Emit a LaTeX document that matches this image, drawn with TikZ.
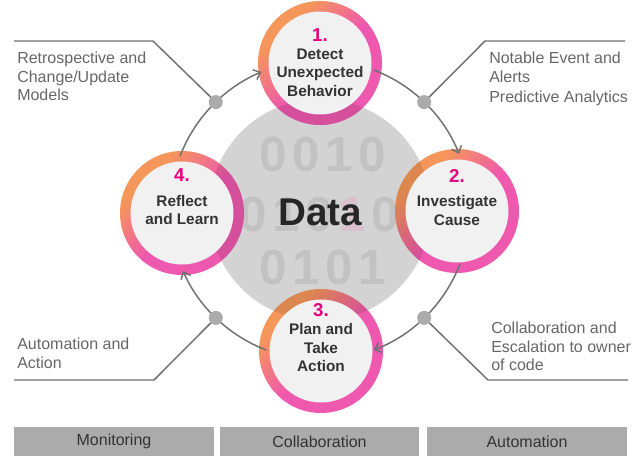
\documentclass[tikz,border=0pt]{standalone}
\usepackage{fontspec}
\setmainfont{Liberation Sans}
\usetikzlibrary{arrows.meta,calc}
\definecolor{ringorange}{HTML}{F5965A}
\definecolor{ringpink}{HTML}{EE58AE}
\definecolor{numpink}{HTML}{E6007E}
\definecolor{diskgray}{HTML}{F1F1F1}
\definecolor{biggray}{HTML}{D3D3D3}
\definecolor{digitgray}{HTML}{C2C2C2}
\definecolor{digitpink}{HTML}{D9C0CC}
\definecolor{linegray}{HTML}{707070}
\definecolor{dotgray}{HTML}{ABABAB}
\definecolor{labelgray}{HTML}{666666}
\definecolor{darktext}{HTML}{333333}
\definecolor{datatext}{HTML}{262626}
\definecolor{bargray}{HTML}{ABABAB}
\pgfdeclarehorizontalshading{ringshade}{100bp}{color(0bp)=(ringorange); color(30bp)=(ringorange); color(52bp)=(ringpink); color(100bp)=(ringpink)}
\tikzset{
  ring/.style={circle, minimum size=93pt, inner sep=0pt, shade, shading=ringshade, shading angle=-45},
  disk/.style={circle, minimum size=77.25pt, inner sep=0pt, fill=diskgray},
  digit/.style={inner sep=0pt, font=\fontsize{37}{40}\selectfont\bfseries, text=digitgray},
  datalabel/.style={inner sep=0pt, font=\fontsize{29}{30}\selectfont\bfseries, text=datatext},
  num/.style={inner sep=0pt, anchor=base, font=\fontsize{14}{16}\selectfont\bfseries, text=numpink},
  ctext/.style={inner sep=0pt, anchor=north, align=center, font=\fontsize{11.5}{13.9}\selectfont\bfseries, text=darktext},
  sidelabel/.style={inner sep=0pt, anchor=north west, align=left, font=\fontsize{12}{13.9}\selectfont, text=labelgray},
  conn/.style={draw=linegray, line width=1.1pt, -{Straight Barb[length=4.5pt,width=8pt]}},
  leader/.style={draw=linegray, line width=1.1pt},
  dotmark/.style={circle, fill=dotgray, minimum size=10.5pt, inner sep=0pt},
  bar/.style={rectangle, fill=bargray, inner sep=0pt, minimum height=21.75pt, text=darktext, font=\fontsize{12}{14}\selectfont}
}
\begin{document}
\begin{tikzpicture}[x=0.75pt,y=-0.75pt]
\useasboundingbox (0,0) rectangle (642,456);
% central data disc
\coordinate (C) at (320,210);
\fill[biggray] (C) circle[radius=111];
\foreach \d [count=\i] in {0,0,1,0} \node[digit] (ra\i) at ({240+33*\i},155) {\d};
\foreach \d [count=\i] in {0,1,0,1,0} \node[digit] (rb\i) at ({220+33*\i},215) {\d};
\node[digit, text=digitpink] (rbp) at (352,215) {1};
\foreach \d [count=\i] in {0,1,0,1} \node[digit] (rc\i) at ({240+33*\i},268) {\d};
\node[datalabel] (data) at (320,212) {Data};
% rings
\node[ring] (c1) at (320,63) {};
\node[ring] (c2) at (457,211) {};
\node[ring] (c3) at (321,351) {};
\node[ring] (c4) at (182,213) {};
\begin{scope}
  \clip (C) circle[radius=111];
  \foreach \c in {c1,c2,c3,c4} \fill[black, opacity=0.1] (\c) circle[radius=62];
\end{scope}
\node[disk] (k1) at (c1) {};
\node[disk] (k2) at (c2) {};
\node[disk] (k3) at (c3) {};
\node[disk] (k4) at (c4) {};
% connectors
\coordinate (s1) at ($(C)+(-69:150)$);
\coordinate (s2) at ($(C)+(21:150)$);
\coordinate (s3) at ($(C)+(111:150)$);
\coordinate (s4) at ($(C)+(-159:150)$);
\draw[conn] (s1) arc[start angle=-69, end angle=-22, radius=150];
\draw[conn] (s2) arc[start angle=21, end angle=69, radius=150];
\draw[conn] (s3) arc[start angle=111, end angle=156, radius=150];
\draw[conn] (s4) arc[start angle=-159, end angle=-113, radius=150];
% leader lines
\coordinate (d1) at ($(C)+(-46:150)$);
\coordinate (d2) at ($(C)+(46:150)$);
\coordinate (d3) at ($(C)+(134:150)$);
\coordinate (d4) at ($(C)+(-134:150)$);
\coordinate (e1) at (485,41);  \coordinate (f1) at (625,41);
\coordinate (e2) at (488,380); \coordinate (f2) at (628,380);
\coordinate (e3) at (154,380); \coordinate (f3) at (14,380);
\coordinate (e4) at (153,41);  \coordinate (f4) at (14,41);
\draw[leader] (d1) -- (e1) -- (f1);
\draw[leader] (d2) -- (e2) -- (f2);
\draw[leader] (d3) -- (e3) -- (f3);
\draw[leader] (d4) -- (e4) -- (f4);
\node[dotmark] (m1) at (d1) {};
\node[dotmark] (m2) at (d2) {};
\node[dotmark] (m3) at (d3) {};
\node[dotmark] (m4) at (d4) {};
% circle texts
\node[num] (n1) at (320,41.7) {1.};
\node[ctext] (t1) at (320,48.3) {Detect\\Unexpected\\Behavior};
\node[num] (n2) at (457,182) {2.};
\node[ctext] (t2) at (457,195.5) {Investigate\\Cause};
\node[num] (n3) at (321,316.7) {3.};
\node[ctext] (t3) at (321,323.3) {Plan and\\Take\\Action};
\node[num] (n4) at (182,181.7) {4.};
\node[ctext] (t4) at (182,195) {Reflect\\and Learn};
% side labels
\node[sidelabel] (tl) at (17,52) {Retrospective and\\Change/Update\\Models};
\node[sidelabel] (tr) at (489,52) {Notable Event and\\Alerts\\[1.5pt]Predictive Analytics};
\node[sidelabel] (bl) at (17,338) {Automation and\\Action};
\node[sidelabel] (br) at (491,322) {Collaboration and\\Escalation to owner\\of code};
% bottom bars
\node[bar, minimum width=150pt] (b1) at (114,441.5) {Monitoring};
\node[bar, minimum width=149.25pt] (b2) at (319.5,441.5) {Collaboration};
\node[bar, minimum width=150pt] (b3) at (527,441.5) {Automation};
\end{tikzpicture}
\end{document}
